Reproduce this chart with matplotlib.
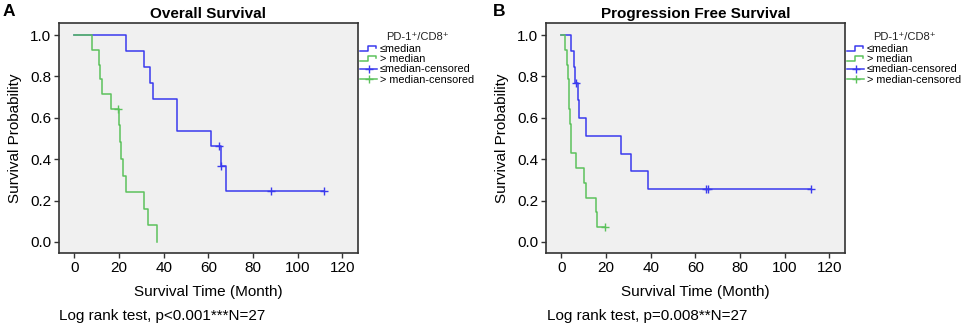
import numpy as np
import matplotlib
matplotlib.use('Agg')
import matplotlib.pyplot as plt
from matplotlib.lines import Line2D
from matplotlib.legend_handler import HandlerBase

plt.rcParams['font.family'] = ['Liberation Sans', 'DejaVu Sans']

# Overall survival, PD-1+/CD8+ <= median (n=13)
os_low_time = [0, 23, 31, 34, 35, 46, 61, 65.5, 68, 112]
os_low_surv = [1.0, 0.923, 0.846, 0.769, 0.692, 0.538, 0.462, 0.369, 0.246, 0.246]
os_low_cens_time = [65, 65.8, 88, 112]
os_low_cens_surv = [0.462, 0.369, 0.246, 0.246]

# Overall survival, PD-1+/CD8+ > median (n=14)
os_high_time = [0, 8, 11, 11.5, 12.5, 16.5, 20, 20.4, 20.8, 22, 23, 31, 33, 37]
os_high_surv = [1.0, 0.929, 0.857, 0.786, 0.714, 0.643, 0.563, 0.482, 0.402, 0.321, 0.241, 0.161, 0.080, 0.0]
os_high_cens_time = [19.7]
os_high_cens_surv = [0.643]

# Progression free survival, <= median
pfs_low_time = [0, 4.2, 5.7, 6.1, 7.3, 7.8, 11, 26.7, 31, 39, 112]
pfs_low_surv = [1.0, 0.923, 0.846, 0.769, 0.684, 0.598, 0.513, 0.427, 0.342, 0.256, 0.256]
pfs_low_cens_time = [6.7, 64.7, 65.7, 112]
pfs_low_cens_surv = [0.769, 0.256, 0.256, 0.256]

# Progression free survival, > median
pfs_high_time = [0, 1.6, 2.5, 3, 3.3, 3.6, 4, 4.3, 4.5, 6.7, 9.9, 10.9, 15.4, 16.1, 19.4]
pfs_high_surv = [1.0, 0.929, 0.857, 0.786, 0.714, 0.643, 0.571, 0.5, 0.429, 0.357, 0.286, 0.214, 0.143, 0.071, 0.071]
pfs_high_cens_time = [19.4]
pfs_high_cens_surv = [0.071]

x_ticks = [0, 20, 40, 60, 80, 100, 120]
y_ticks = [0.0, 0.2, 0.4, 0.6, 0.8, 1.0]
group_labels = ['\u2264median', '> median', '\u2264median-censored', '> median-censored']
legend_title = 'PD-1\u207a/CD8\u207a'

BLUE = '#3a3aee'
GREEN = '#5cc25c'
FRAME = '#333333'


class StepHandler(HandlerBase):
    """draw the little step icon SPSS uses for survival lines"""
    def create_artists(self, legend, orig_handle, xdescent, ydescent,
                       width, height, fontsize, trans):
        x0 = -xdescent
        y0 = -ydescent
        xs = [x0, x0 + 0.45 * width, x0 + 0.45 * width, x0 + 0.95 * width, x0 + 0.95 * width]
        ys = [y0 + 0.15 * height, y0 + 0.15 * height, y0 + 0.8 * height, y0 + 0.8 * height, y0 + 0.5 * height]
        line = Line2D(xs, ys, color=orig_handle.get_color(), lw=orig_handle.get_linewidth())
        line.set_transform(trans)
        return [line]


def plot_km(ax, title, low, high, low_cens, high_cens):
    # survival curves
    low_line, = ax.step(low[0], low[1], where='post', color=BLUE, lw=1.1)
    high_line, = ax.step(high[0], high[1], where='post', color=GREEN, lw=1.1)
    # censored cases
    ax.plot(low_cens[0], low_cens[1], ls='none', marker='+', ms=6, mew=1.0, color=BLUE)
    ax.plot(high_cens[0], high_cens[1], ls='none', marker='+', ms=6, mew=1.0, color=GREEN)

    ax.set_facecolor('#f0f0f0')
    ax.set_xlim(-6.9, 127)
    ax.set_ylim(-0.055, 1.057)
    ax.set_xticks(x_ticks)
    ax.set_yticks(y_ticks)
    ax.set_yticklabels(['%.1f' % y for y in y_ticks])
    ax.tick_params(direction='out', length=3.5, width=1.0, color=FRAME,
                   labelsize=11, pad=2)
    for s in ax.spines.values():
        s.set_color(FRAME)
        s.set_linewidth(1.2)

    ax.set_title(title, fontsize=11, fontweight='bold', pad=4)
    ax.set_xlabel('Survival Time (Month)', fontsize=11, labelpad=7)
    ax.set_ylabel('Survival Probability', fontsize=11, labelpad=6)

    # legend outside on the right, title written separately
    ax.text(1.2, 0.94, legend_title, transform=ax.transAxes, fontsize=8,
            ha='center', va='center', color='#222222')
    low_c = Line2D([], [], color=BLUE, lw=1.1, marker='+', ms=6, mew=1.0)
    high_c = Line2D([], [], color=GREEN, lw=1.1, marker='+', ms=6, mew=1.0)
    ax.legend([low_line, high_line, low_c, high_c], group_labels,
              handler_map={low_line: StepHandler(), high_line: StepHandler()},
              loc='upper left', bbox_to_anchor=(1.003, 0.915), frameon=False,
              fontsize=7.8, handlelength=1.6, handletextpad=0.25, labelspacing=0.02,
              borderpad=0.1, borderaxespad=0.0, numpoints=1)
    return ax


def main():
    fig = plt.figure(figsize=(9.65, 3.3), dpi=100)
    ax_a = fig.add_axes([0.0611, 0.2324, 0.3098, 0.697])
    ax_b = fig.add_axes([0.5658, 0.2324, 0.3098, 0.697])

    plot_km(ax_a, 'Overall Survival', (os_low_time, os_low_surv), (os_high_time, os_high_surv),
            (os_low_cens_time, os_low_cens_surv), (os_high_cens_time, os_high_cens_surv))
    plot_km(ax_b, 'Progression Free Survival', (pfs_low_time, pfs_low_surv), (pfs_high_time, pfs_high_surv),
            (pfs_low_cens_time, pfs_low_cens_surv), (pfs_high_cens_time, pfs_high_cens_surv))

    # panel letters
    fig.text(0.003, 0.988, 'A', fontsize=12.5, fontweight='bold', va='top', ha='left')
    fig.text(0.511, 0.988, 'B', fontsize=12.5, fontweight='bold', va='top', ha='left')

    # log rank results
    fig.text(0.0615, 0.0424, 'Log rank test, p<0.001***N=27', fontsize=11, va='center', ha='left')
    fig.text(0.5665, 0.0424, 'Log rank test, p=0.008**N=27', fontsize=11, va='center', ha='left')

    plt.savefig('out.png', dpi=100)


if __name__ == '__main__':
    main()
